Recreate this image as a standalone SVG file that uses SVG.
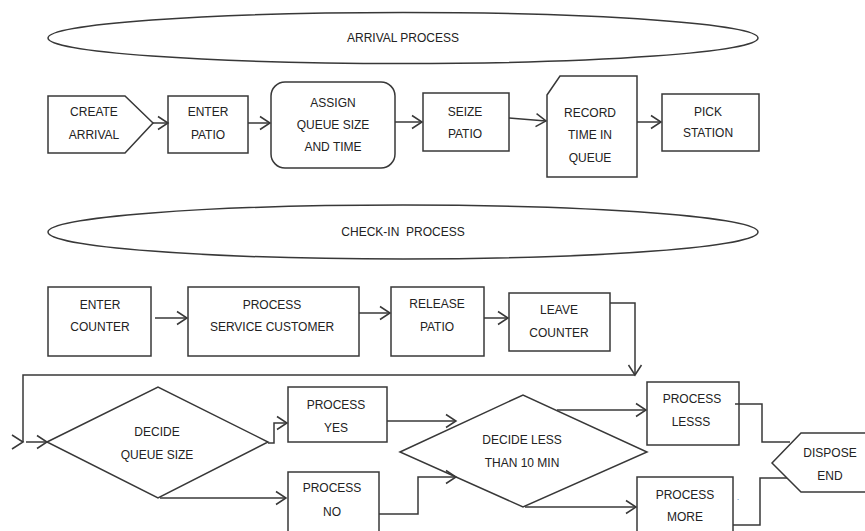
<svg xmlns="http://www.w3.org/2000/svg" width="865" height="531" viewBox="0 0 865 531">
<style>
.s{fill:#fff;stroke:#383838;stroke-width:1.5}
.c{fill:none;stroke:#383838;stroke-width:1.5}
text{font-family:"Liberation Sans",Arial,sans-serif;font-size:12px;fill:#222;text-anchor:middle;white-space:pre}
</style>
<defs>
<marker id="a" markerUnits="userSpaceOnUse" markerWidth="14" markerHeight="16" refX="11" refY="8" orient="auto" overflow="visible">
<path d="M1,1.5 L11,8 L1,14.5" fill="none" stroke="#383838" stroke-width="1.5"/>
</marker>
</defs>
<rect width="865" height="531" fill="#fff"/>

<g id="arrival-process">
<ellipse class="s" cx="403" cy="38" rx="355" ry="25.5"/>
<text x="403" y="42">ARRIVAL PROCESS</text>
</g>

<g id="create-arrival">
<path class="s" d="M48,96 H125 L153,123 L125,153 H48 Z"/>
<text x="94" y="116">CREATE</text>
<text x="94" y="139">ARRIVAL</text>
</g>
<g id="enter-patio">
<rect class="s" x="168" y="96" width="80" height="57"/>
<text x="208" y="116">ENTER</text>
<text x="208" y="139">PATIO</text>
</g>
<g id="assign">
<rect class="s" x="271" y="82" width="124" height="86" rx="14"/>
<text x="333" y="107">ASSIGN</text>
<text x="333" y="129">QUEUE SIZE</text>
<text x="333" y="151">AND TIME</text>
</g>
<g id="seize-patio">
<rect class="s" x="423" y="93" width="86" height="58"/>
<text x="465" y="116">SEIZE</text>
<text x="465" y="138">PATIO</text>
</g>
<g id="record">
<path class="s" d="M547,95 L560,76 H637 V177 H547 Z"/>
<text x="590" y="117">RECORD</text>
<text x="590" y="139">TIME IN</text>
<text x="590" y="162">QUEUE</text>
</g>
<g id="pick-station">
<rect class="s" x="662" y="94" width="97" height="57"/>
<text x="708" y="116">PICK</text>
<text x="708" y="137">STATION</text>
</g>

<g id="checkin-process">
<ellipse class="s" cx="403" cy="232" rx="355" ry="27"/>
<text x="403" y="236">CHECK-IN  PROCESS</text>
</g>

<g id="enter-counter">
<rect class="s" x="48" y="287" width="103" height="69"/>
<text x="100" y="309">ENTER</text>
<text x="100" y="331">COUNTER</text>
</g>
<g id="process-service">
<rect class="s" x="188" y="287" width="171" height="69"/>
<text x="272" y="309">PROCESS</text>
<text x="272" y="331">SERVICE CUSTOMER</text>
</g>
<g id="release-patio">
<rect class="s" x="391" y="287" width="93" height="69"/>
<text x="437" y="308">RELEASE</text>
<text x="437" y="331">PATIO</text>
</g>
<g id="leave-counter">
<rect class="s" x="509" y="293" width="101" height="58"/>
<text x="559" y="314">LEAVE</text>
<text x="559" y="337">COUNTER</text>
</g>

<g id="decide-queue">
<path class="s" d="M47,442 L158,387 L268,442 L158,498 Z"/>
<text x="157" y="436">DECIDE</text>
<text x="157" y="459">QUEUE SIZE</text>
</g>
<g id="process-yes">
<rect class="s" x="288" y="387" width="99" height="55"/>
<text x="336" y="409">PROCESS</text>
<text x="336" y="432">YES</text>
</g>
<g id="process-no">
<rect class="s" x="288" y="472" width="91" height="70"/>
<text x="332" y="492">PROCESS</text>
<text x="332" y="516">NO</text>
</g>
<g id="decide-less">
<path class="s" d="M400,452 L523,395 L647,452 L523,507 Z"/>
<text x="522" y="444">DECIDE LESS</text>
<text x="522" y="467">THAN 10 MIN</text>
</g>
<g id="process-lesss">
<rect class="s" x="647" y="382" width="92" height="63"/>
<text x="692" y="403">PROCESS</text>
<text x="691" y="426">LESSS</text>
</g>
<g id="process-more">
<rect class="s" x="637" y="477" width="96" height="65"/>
<text x="685" y="499">PROCESS</text>
<text x="685" y="521">MORE</text>
<text x="738" y="500" style="font-size:9px;fill:#5b8bd0">.</text>
</g>
<g id="dispose-end">
<path class="s" d="M772,463 L801,433 H870 V492 H801 Z"/>
<text x="830" y="457">DISPOSE</text>
<text x="830" y="480">END</text>
</g>

<g id="connectors">
<path class="c" d="M153,123 H168" marker-end="url(#a)"/>
<path class="c" d="M248,123 H270" marker-end="url(#a)"/>
<path class="c" d="M395,122 H422" marker-end="url(#a)"/>
<path class="c" d="M509,118 L546,121" marker-end="url(#a)"/>
<path class="c" d="M637,122 H661" marker-end="url(#a)"/>
<path class="c" d="M155,318 H187" marker-end="url(#a)"/>
<path class="c" d="M359,313 H390" marker-end="url(#a)"/>
<path class="c" d="M484,318 H508" marker-end="url(#a)"/>
<path class="c" d="M610,303 H635 V375" marker-end="url(#a)"/>
<path class="c" d="M635,375 H23 V442"/>
<path class="c" d="M12,435 L23,442 L12,449"/>
<path class="c" d="M26,442 H47" marker-end="url(#a)"/>
<path class="c" d="M268,443 H274 V423 H287" marker-end="url(#a)"/>
<path class="c" d="M160,498 H286" marker-end="url(#a)"/>
<path class="c" d="M387,421 H456" marker-end="url(#a)"/>
<path class="c" d="M379,514 H418 V477 H456" marker-end="url(#a)"/>
<path class="c" d="M557,410 H646" marker-end="url(#a)"/>
<path class="c" d="M525,507 H636" marker-end="url(#a)"/>
<path class="c" d="M735,404 H762 V442 H790"/>
<path class="c" d="M733,525 H760 V478 H787"/>
</g>
</svg>
